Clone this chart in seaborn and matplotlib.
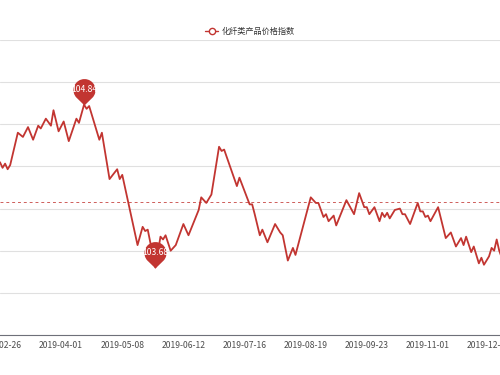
import matplotlib
matplotlib.use("Agg")
import matplotlib.pyplot as plt
import numpy as np
import seaborn as sns
from matplotlib.path import Path
from matplotlib.lines import Line2D

# Données (jour de bourse depuis 2019-02-26, valeur de l'indice)
trade_day = [0, 1, 2, 3, 4, 7, 9, 11, 13, 15, 16, 18, 20, 21, 23, 25, 27, 30, 31, 33,
             34, 35, 39, 40, 43, 46, 47, 48, 54, 56, 57, 58, 61, 63, 64, 65, 67, 69, 72, 74,
             78, 79, 81, 83, 86, 87, 88, 93, 94, 98, 99, 100, 102, 103, 105, 108, 110, 111, 113, 115,
             116, 122, 124, 125, 127, 128, 129, 131, 132, 136, 139, 141, 143, 144, 145, 147, 149, 150, 151, 152,
             153, 155, 157, 158, 159, 161, 164, 165, 166, 167, 168, 169, 172, 175, 177, 179, 181, 182, 183, 185,
             186, 188, 189, 190, 192, 193, 194, 195, 196, 197]
index_value = [104.43, 104.39, 104.42, 104.38, 104.41, 104.64, 104.61, 104.68, 104.59, 104.69,
               104.67, 104.74, 104.69, 104.80, 104.65, 104.72, 104.58, 104.74, 104.71, 104.84,
               104.81, 104.83, 104.59, 104.64, 104.31, 104.38, 104.31, 104.34, 103.84, 103.97,
               103.94, 103.95, 103.68, 103.90, 103.88, 103.91, 103.80, 103.84, 103.99, 103.91,
               104.09, 104.18, 104.14, 104.20, 104.54, 104.51, 104.52, 104.26, 104.32, 104.13,
               104.13, 104.06, 103.91, 103.95, 103.86, 103.99, 103.93, 103.91, 103.73, 103.82,
               103.77, 104.18, 104.14, 104.14, 104.04, 104.06, 104.01, 104.05, 103.98, 104.16,
               104.06, 104.21, 104.11, 104.11, 104.06, 104.11, 104.01, 104.07, 104.04, 104.07,
               104.03, 104.09, 104.10, 104.06, 104.06, 103.99, 104.14, 104.08, 104.08, 104.04,
               104.05, 104.01, 104.11, 103.89, 103.93, 103.83, 103.89, 103.84, 103.90, 103.79,
               103.83, 103.71, 103.75, 103.70, 103.76, 103.82, 103.80, 103.88, 103.80, 103.75]
average_value = 104.15

tick_days = [0, 24, 48, 72, 96, 120, 144, 168, 192]
tick_labels = ['2019-02-26', '2019-04-01', '2019-05-08', '2019-06-12', '2019-07-16',
               '2019-08-19', '2019-09-23', '2019-11-01', '2019-12-05']
series_name = '化纤类产品价格指数'

red = '#c23531'

sns.set_style('white')
plt.rcParams['font.family'] = ['Noto Sans CJK SC', 'DejaVu Sans']

fig = plt.figure(figsize=(5, 3.75), dpi=100)
ax = fig.add_axes([0, 40 / 375, 1, 295 / 375])

sns.lineplot(x=trade_day, y=index_value, color=red, linewidth=1.3, ax=ax, zorder=3)

# ligne de moyenne
ax.axhline(average_value, color=red, linewidth=0.7, linestyle=(0, (3, 3)), alpha=0.8, zorder=2)

# marqueurs max / min en forme d'épingle
c = 1.4
th = np.degrees(np.arcsin(1 / c))
arc = Path.arc(-th, 180 + th)
verts = np.vstack([[0, 0], arc.vertices + [0, c], [0, 0]])
pin = Path(verts, closed=True)
pin_size = 38
vals = np.array(index_value)
for k in [int(np.argmax(vals)), int(np.argmin(vals))]:
    ax.plot([trade_day[k]], [vals[k]], marker=pin, markersize=pin_size, color=red,
            markeredgewidth=0, zorder=5, clip_on=False)
    ax.annotate(f'{vals[k]:.2f}', (trade_day[k], vals[k]), xytext=(0, pin_size / 2 * c / (c + 1)),
                textcoords='offset points', ha='center', va='center', color='white',
                fontsize=6.2, zorder=6)

ax.set_xlim(0.82, 196.3)
ax.set_ylim(103.2, 105.3)
ax.set_yticks(np.arange(103.2, 105.31, 0.3))
ax.set_yticklabels([])
ax.tick_params(axis='y', length=0)
ax.grid(axis='y', color='#e0e0e0', linewidth=0.8)
ax.set_xticks(tick_days, tick_labels)
ax.tick_params(axis='x', length=2.5, width=0.7, color='#6e7079', labelcolor='#4d4d4d',
               labelsize=6.2, pad=2)
for s in ['left', 'right', 'top']:
    ax.spines[s].set_visible(False)
ax.spines['bottom'].set_color('#6e7079')
ax.spines['bottom'].set_linewidth(0.8)
ax.set_xlabel('')
ax.set_ylabel('')

handle = Line2D([], [], color=red, marker='o', markerfacecolor='white', markersize=4.5,
                linewidth=1)
ax.legend(handles=[handle], labels=[series_name], loc='center',
          bbox_to_anchor=(0.5, 1 - 31 / 375), bbox_transform=fig.transFigure,
          frameon=False, fontsize=5.9, handlelength=1.6, handletextpad=0.4,
          labelcolor='#333333')

fig.savefig('out.png', dpi=100)
